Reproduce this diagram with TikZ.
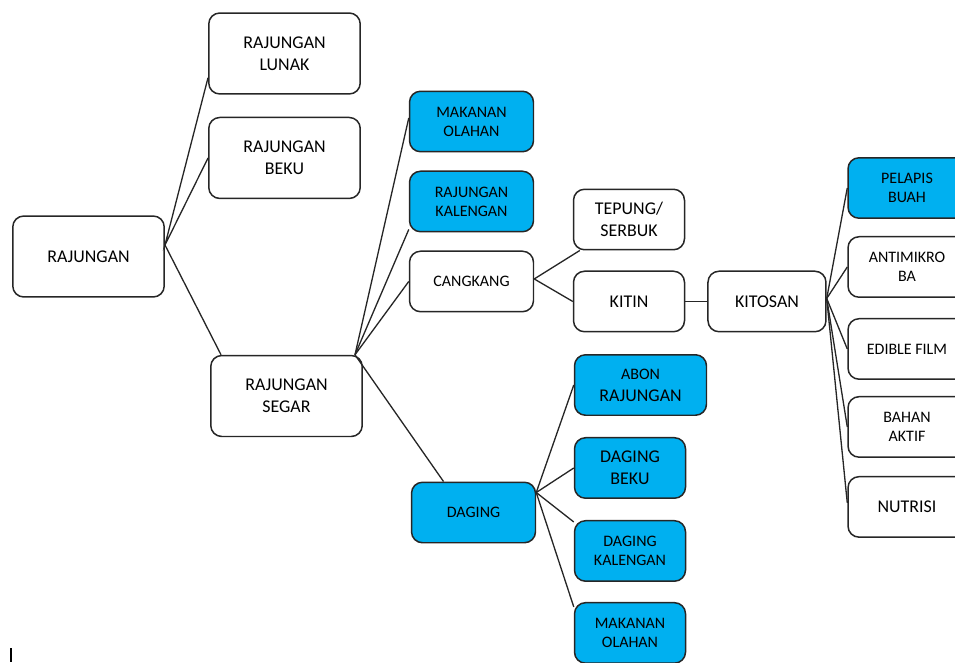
\documentclass[tikz,border=0pt]{standalone}
\usepackage{fontspec}
\setmainfont{Carlito}
\usepackage{xcolor}
\usetikzlibrary{positioning}
\definecolor{biru}{HTML}{00B0F0}

\begin{document}
\begin{tikzpicture}[
  x=0.02cm, y=-0.02cm,
  box/.style={rectangle, draw=black!85, line width=0.85pt, rounded corners=0.22cm,
              fill=white, inner sep=1pt, minimum height=1.21cm,
              font=\fontsize{10.2}{12.5}\selectfont},
  bigbox/.style={box, minimum width=3.03cm, minimum height=1.62cm},
  smallbox/.style={box, font=\fontsize{9.1}{10.8}\selectfont},
  produk/.style={fill=biru},
  link/.style={line width=0.75pt, draw=black!85},
  every node/.style={align=center}
]
\useasboundingbox (0,0) rectangle (955,662);
\clip (0,0) rectangle (955,662);

% asal dan hasil utama
\node[bigbox] (root) at (88.5,256.5) {RAJUNGAN};
\node[bigbox] (lunak) at (284.5,53.5) {RAJUNGAN\\LUNAK};
\node[bigbox, below=0.44cm of lunak] (beku) {RAJUNGAN\\BEKU};
\node[bigbox] (segar) at (286.5,396) {RAJUNGAN\\SEGAR};

\node[smallbox, produk, minimum width=2.48cm] (olahan) at (471.5,121.5) {MAKANAN\\OLAHAN};
\node[smallbox, produk, minimum width=2.48cm, below=0.36cm of olahan] (kalengan) {RAJUNGAN\\KALENGAN};
\node[smallbox, minimum width=2.48cm, below=0.36cm of kalengan] (cangkang) {CANGKANG};
\node[smallbox, produk, minimum width=2.48cm] (daging) at (473.5,512.5) {DAGING};

% olahan cangkang
\node[box, minimum width=2.22cm] (tepung) at (629,219.5) {TEPUNG/\\SERBUK};
\node[box, minimum width=2.22cm, below=0.4cm of tepung] (kitin) {KITIN};
\node[box, minimum width=2.36cm, right=0.44cm of kitin] (kitosan) {KITOSAN};

% olahan daging
\node[box, produk, minimum width=2.64cm] (abon) at (640.5,385)
  {{\fontsize{9.1}{10.8}\selectfont ABON}\\RAJUNGAN};
\node[box, produk, minimum width=2.22cm, below=0.42cm of abon.south west, anchor=north west] (dbeku) {DAGING\\BEKU};
\node[smallbox, produk, minimum width=2.22cm, below=0.42cm of dbeku] (dkaleng) {DAGING\\KALENGAN};
\node[smallbox, produk, minimum width=2.22cm, below=0.4cm of dkaleng] (molahan) {MAKANAN\\OLAHAN};

% kegunaan kitosan
\node[smallbox, produk, minimum width=2.36cm] (pelapis) at (907,188) {PELAPIS\\BUAH};
\node[smallbox, minimum width=2.36cm, below=0.34cm of pelapis] (antimikroba) {ANTIMIKRO\\BA};
\node[smallbox, minimum width=2.36cm, below=0.4cm of antimikroba] (edible) {EDIBLE FILM};
\node[smallbox, minimum width=2.36cm, below=0.32cm of edible] (bahan) {BAHAN\\AKTIF};
\node[box, minimum width=2.36cm, below=0.36cm of bahan] (nutrisi) {NUTRISI};

\draw[link] ([yshift=0.34cm]lunak.south west) -- ([yshift=0.23cm]root.east) -- (beku.west);
\draw[link] ([yshift=0.23cm]root.east) -- ([xshift=0.22cm]segar.north west);

\draw[link] ([xshift=-0.16cm]segar.north east) -- ([yshift=0.07cm]olahan.west);
\draw[link] ([xshift=-0.16cm]segar.north east) -- ([yshift=0.06cm]kalengan.south west);
\draw[link] ([xshift=-0.16cm]segar.north east) -- (cangkang.west);
\draw[link] ([xshift=-0.16cm]segar.north east) -- ([xshift=-0.6cm]daging.north);

\draw[link] ([xshift=0.14cm]tepung.south west) -- ([yshift=0.05cm]cangkang.east) -- (kitin.west);
\draw[link] (kitin.east) -- (kitosan.west);

\draw[link] ([yshift=0.4cm]daging.east) -- (abon.west);
\draw[link] ([yshift=0.4cm]daging.east) -- (dbeku.west);
\draw[link] ([yshift=0.4cm]daging.east) -- ([yshift=-0.04cm]dkaleng.north west);
\draw[link] ([yshift=0.4cm]daging.east) -- ([yshift=-0.1cm]molahan.north west);

\draw[link] ([yshift=0.06cm]kitosan.east) -- (pelapis.west);
\draw[link] ([yshift=0.06cm]kitosan.east) -- (antimikroba.west);
\draw[link] ([yshift=0.06cm]kitosan.east) -- (edible.west);
\draw[link] ([yshift=0.06cm]kitosan.east) -- (bahan.west);
\draw[link] ([yshift=0.06cm]kitosan.east) -- ([yshift=0.08cm]nutrisi.west);

\draw[line width=1pt] (11,648) -- (11,662);
\end{tikzpicture}
\end{document}
